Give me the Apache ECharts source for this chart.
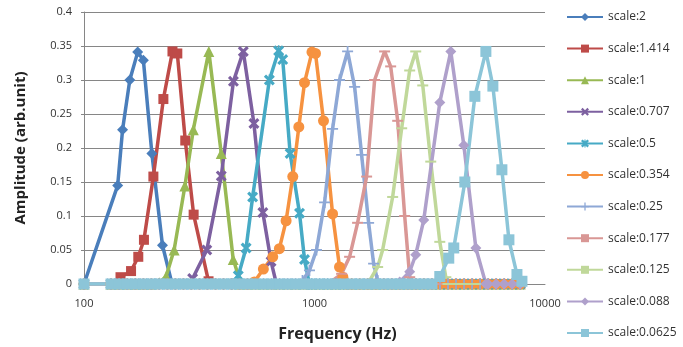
<!DOCTYPE html>
<html>
<head>
<meta charset="utf-8">
<script src="https://cdn.jsdelivr.net/npm/echarts@6/dist/echarts.min.js"></script>
<style>
  html, body { margin: 0; padding: 0; background: #fff; }
  #main { width: 683px; height: 347px; }
</style>
</head>
<body>
<div id="main"></div>
<script>
// shared frequency grid (Hz) where the curves sit on zero
var freqGrid = [100, 131, 142, 154, 167, 181, 196, 212, 230, 249, 270, 292, 317, 343, 372, 403, 436, 473, 512,
    555, 601, 651, 706, 765, 828, 897, 972, 1053, 1141, 1236, 1339, 1451, 1572, 1703, 1845, 1999, 2166, 2346,
    2542, 2754, 2984, 3233, 3502, 3795, 4111, 4454, 4826, 5228, 5664, 6137, 6649, 7203, 7804];

var seriesNames = ['scale:2', 'scale:1.414', 'scale:1', 'scale:0.707', 'scale:0.5', 'scale:0.354',
    'scale:0.25', 'scale:0.177', 'scale:0.125', 'scale:0.088', 'scale:0.0625'];

// non-zero part of every curve
var f_2 = [100, 140, 147, 158, 171, 181, 197, 219, 241];
var a_2 = [0, 0.145, 0.227, 0.300, 0.341, 0.329, 0.192, 0.057, 0];
var f_1414 = [144, 160, 172, 182, 200, 221, 242, 254, 275, 299, 347];
var a_1414 = [0.010, 0.019, 0.040, 0.065, 0.158, 0.272, 0.342, 0.339, 0.211, 0.102, 0.004];
var f_1 = [212, 227, 246, 274, 298, 348, 394, 444, 472];
var a_1 = [0.002, 0.011, 0.050, 0.144, 0.227, 0.342, 0.192, 0.036, 0.008];
var f_0707 = [296, 341, 394, 445, 491, 546, 597, 648, 684];
var a_0707 = [0.008, 0.050, 0.159, 0.298, 0.342, 0.236, 0.105, 0.033, 0];
var f_05 = [440, 467, 505, 539, 637, 699, 728, 784, 861, 905, 950];
var a_05 = [0, 0.012, 0.053, 0.128, 0.300, 0.343, 0.330, 0.192, 0.104, 0.036, 0];
var f_0354 = [548, 600, 659, 704, 753, 805, 855, 905, 975, 1010, 1094, 1198, 1284, 1328, 1390];
var a_0354 = [0.003, 0.022, 0.040, 0.052, 0.093, 0.158, 0.231, 0.296, 0.341, 0.339, 0.240, 0.103, 0.025, 0.010, 0];
var f_025 = [887, 951, 1020, 1106, 1198, 1284, 1392, 1493, 1601, 1717, 1805, 1879];
var a_025 = [0.005, 0.020, 0.050, 0.120, 0.228, 0.300, 0.342, 0.290, 0.190, 0.090, 0.030, 0.005];
var f_0177 = [1198, 1311, 1420, 1538, 1683, 1823, 2015, 2140, 2296, 2462, 2588];
var a_0177 = [0.005, 0.015, 0.040, 0.090, 0.158, 0.300, 0.342, 0.320, 0.240, 0.100, 0.010];
var f_0125 = [1734, 1879, 1975, 2183, 2389, 2588, 2749, 2949, 3194, 3496, 3713];
var a_0125 = [0.005, 0.025, 0.050, 0.128, 0.229, 0.314, 0.342, 0.292, 0.180, 0.062, 0.010];
var f_0088 = [2342, 2588, 2749, 2978, 3496, 3902, 4445, 5012, 5540];
var a_0088 = [0.003, 0.018, 0.043, 0.094, 0.267, 0.342, 0.204, 0.053, 0];
var f_00625 = [3496, 3824, 4020, 4490, 4963, 5540, 5941, 6501, 6974, 7556, 7943];
var a_00625 = [0.011, 0.038, 0.053, 0.150, 0.276, 0.342, 0.291, 0.168, 0.065, 0.014, 0.004];

var allF = [f_2, f_1414, f_1, f_0707, f_05, f_0354, f_025, f_0177, f_0125, f_0088, f_00625];
var allA = [a_2, a_1414, a_1, a_0707, a_05, a_0354, a_025, a_0177, a_0125, a_0088, a_00625];

var colors = ['#4A7EBB', '#BE4B48', '#98B954', '#7D60A0', '#46AAC5', '#F69240',
    '#8EA8D6', '#D99795', '#C0D89A', '#AFA0CB', '#8CC5D8'];

var xPath = 'path://M2,0L5,3L8,0L10,2L7,5L10,8L8,10L5,7L2,10L0,8L3,5L0,2Z';
var starPath = 'path://M2,0L5,3L8,0L10,2L7,5L10,8L8,10L5,7L2,10L0,8L3,5L0,2Z M4.3,0L5.7,0L5.7,10L4.3,10Z';
var plusPath = 'path://M4.2,0L5.8,0L5.8,4.2L10,4.2L10,5.8L5.8,5.8L5.8,10L4.2,10L4.2,5.8L0,5.8L0,4.2L4.2,4.2Z';
var dashPath = 'path://M0,0L10,0L10,2L0,2Z';
var symbols = ['diamond', 'rect', 'triangle', xPath, starPath, 'circle', plusPath, dashPath, dashPath, 'diamond', 'rect'];
var sizes = [11, 10, 11, 11, 11, 11, 11, [11, 2], [11, 2], 11, 11];

function buildData(fs, as) {
    var lo = fs[0], hi = fs[fs.length - 1];
    var d = [];
    freqGrid.forEach(function (g) { if (g < lo) d.push([g, 0]); });
    for (var i = 0; i < fs.length; i++) d.push([fs[i], as[i]]);
    freqGrid.forEach(function (g) { if (g > hi) d.push([g, 0]); });
    return d;
}

var series = [];
for (var k = 0; k < seriesNames.length; k++) {
    series.push({
        name: seriesNames[k],
        type: 'line',
        data: buildData(allF[k], allA[k]),
        symbol: symbols[k],
        symbolSize: sizes[k],
        showAllSymbol: true,
        lineStyle: { width: 3.5, color: colors[k] },
        itemStyle: { color: colors[k] }
    });
}

var chart = echarts.init(document.getElementById('main'));
chart.setOption({
    animation: false,
    backgroundColor: '#fff',
    color: colors,
    textStyle: { fontFamily: 'Open Sans' },
    grid: { left: 84, right: 138, top: 12, bottom: 63 },
    legend: {
        orient: 'vertical',
        left: 566,
        top: 11,
        itemWidth: 36,
        itemHeight: 10,
        itemGap: 19.6,
        padding: 0,
        textStyle: { fontSize: 12, color: '#333', fontFamily: 'Open Sans' },
        data: seriesNames
    },
    xAxis: {
        type: 'log',
        logBase: 10,
        min: 100,
        max: 10000,
        name: 'Frequency (Hz)',
        nameLocation: 'middle',
        nameGap: 42,
        nameTextStyle: { fontSize: 16, fontWeight: 'bold', color: '#222', padding: [0, 0, 0, 46] },
        axisLine: { lineStyle: { color: '#868686', width: 1 } },
        axisTick: { show: false },
        minorTick: { show: false },
        splitLine: { show: false },
        axisLabel: {
            fontSize: 11, color: '#333', margin: 14,
            formatter: function (v) { return String(Math.round(v)); }
        }
    },
    yAxis: {
        type: 'value',
        min: 0,
        max: 0.4,
        interval: 0.05,
        name: 'Amplitude (arb.unit)',
        nameLocation: 'middle',
        nameGap: 56,
        nameRotate: 90,
        nameTextStyle: { fontSize: 15, fontWeight: 'bold', color: '#222', padding: [0, 0, 0, 0] },
        axisLine: { show: true, lineStyle: { color: '#868686', width: 1 } },
        axisTick: { show: true, length: 3, lineStyle: { color: '#868686' } },
        splitLine: { lineStyle: { color: '#868686', width: 1 } },
        axisLabel: {
            fontSize: 11, color: '#333', margin: 12,
            formatter: function (v) { return String(parseFloat(v.toFixed(2))); }
        }
    },
    series: series
});
</script>
</body>
</html>
